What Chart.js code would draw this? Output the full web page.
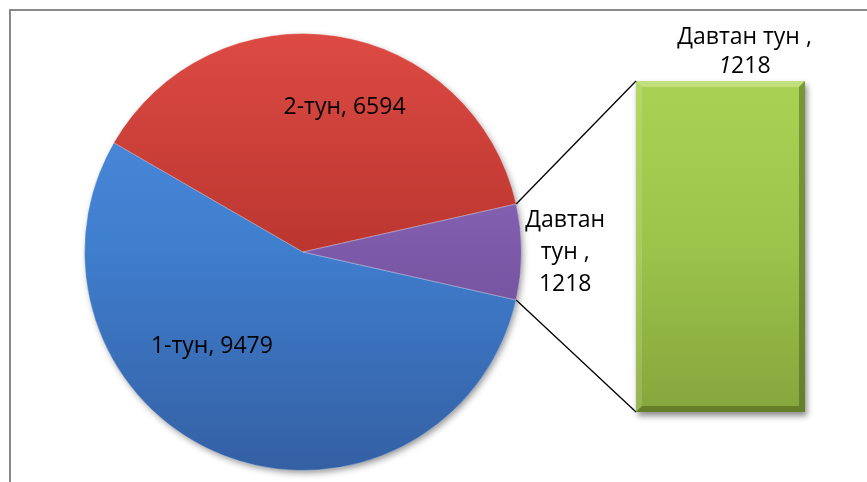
<!DOCTYPE html>
<html>
<head>
<meta charset="utf-8">
<script src="https://cdn.jsdelivr.net/npm/chart.js@4.4.1/dist/chart.umd.min.js"></script>
<style>
html, body { margin: 0; padding: 0; background: #fff; overflow: hidden; }
#wrap { position: relative; width: 867px; height: 482px; }
#frame { position: absolute; left: 9px; top: 9px; width: 900px; height: 500px; border-left: 2px solid #898989; border-top: 2px solid #898989; }
canvas { position: absolute; left: 0; top: 0; }
</style>
</head>
<body>
<div id="wrap">
  <div id="frame"></div>
  <canvas id="pieChart" width="867" height="482"></canvas>
  <canvas id="barChart" width="867" height="482"></canvas>
</div>
<script>
// data
const pieLabels = ['1-тун', '2-тун', 'Давтан тун '];
const pieValues = [9479, 6594, 1218];
const barLabels = ['Давтан тун '];
const barValues = [1218];

// style
const FONT = '23px "Open Sans"';
const pieStops = [
    ['#4f8fe0', '#3f7dcd', '#3460a3'],
    ['#dd4a44', '#bb362f', '#9e2b27'],
    ['#9a78c9', '#7d5aa9', '#5e4185']
];
// label placement: angle (deg, canvas) and distance as share of radius
const labelPlace = [[134, 0.60], [286, 0.69], [0, 1.20]];
const labelWrap = [0, 0, 90];

function gradFill(c, stops) {
    const a = c.chart.chartArea;
    if (!a) return stops[1];
    const g = c.chart.ctx.createLinearGradient(0, a.top, 0, a.bottom);
    g.addColorStop(0, stops[0]); g.addColorStop(0.5, stops[1]); g.addColorStop(1, stops[2]);
    return g;
}

function wrapText(ctx, text, width) {
    if (!width) return [text];
    const words = text.split(' ');
    const lines = []; let cur = '';
    words.forEach(w => {
        const test = cur ? cur + ' ' + w : w;
        if (cur && ctx.measureText(test).width > width) { lines.push(cur); cur = w; }
        else cur = test;
    });
    if (cur) lines.push(cur);
    return lines;
}

const total = pieValues.reduce((s, v) => s + v, 0);
const lastShare = pieValues[pieValues.length - 1] / total * 360;

const pieShadow = {
    id: 'pieShadow',
    beforeDatasetsDraw(chart) {
        const arc = chart.getDatasetMeta(0).data[0];
        const ctx = chart.ctx;
        ctx.save();
        ctx.shadowColor = 'rgba(0,0,0,0.45)';
        ctx.shadowBlur = 7; ctx.shadowOffsetX = 2; ctx.shadowOffsetY = 3;
        ctx.fillStyle = '#3460a3';
        ctx.beginPath(); ctx.arc(arc.x, arc.y, arc.outerRadius - 1, 0, Math.PI * 2); ctx.fill();
        ctx.restore();
    }
};

const pieText = {
    id: 'pieText',
    afterDatasetsDraw(chart) {
        const ctx = chart.ctx;
        ctx.save();
        ctx.font = FONT; ctx.fillStyle = '#000';
        ctx.textAlign = 'center'; ctx.textBaseline = 'middle';
        chart.getDatasetMeta(0).data.forEach((arc, i) => {
            const ang = labelPlace[i][0] * Math.PI / 180;
            const cx = arc.x + Math.cos(ang) * arc.outerRadius * labelPlace[i][1];
            const cy = arc.y + Math.sin(ang) * arc.outerRadius * labelPlace[i][1];
            const lines = wrapText(ctx, pieLabels[i] + ', ' + pieValues[i], labelWrap[i]);
            const lh = 32;
            lines.forEach((l, k) => ctx.fillText(l, cx, cy + (k - (lines.length - 1) / 2) * lh));
        });
        ctx.restore();
    }
};

const pieChart = new Chart(document.getElementById('pieChart'), {
    type: 'pie',
    data: {
        labels: pieLabels,
        datasets: [{
            data: pieValues,
            backgroundColor: (c) => gradFill(c, pieStops[c.dataIndex]),
            borderColor: 'rgba(255,255,255,0.3)',
            borderWidth: 1
        }]
    },
    options: {
        responsive: false, animation: false, devicePixelRatio: 1,
        rotation: 90 + lastShare / 2,
        layout: { padding: { left: 84, right: 345, top: 33, bottom: 11 } },
        plugins: { legend: { display: false }, tooltip: { enabled: false } }
    },
    plugins: [pieShadow, pieText]
});

const barDecor = {
    id: 'barDecor',
    beforeDatasetsDraw(chart) {
        const b = chart.getDatasetMeta(0).data[0];
        const ctx = chart.ctx;
        ctx.save();
        ctx.shadowColor = 'rgba(0,0,0,0.45)';
        ctx.shadowBlur = 6; ctx.shadowOffsetX = 2; ctx.shadowOffsetY = 4;
        ctx.fillStyle = '#88a83e';
        ctx.fillRect(b.x - b.width / 2, b.y, b.width, b.base - b.y);
        ctx.restore();
    },
    afterDatasetsDraw(chart) {
        const b = chart.getDatasetMeta(0).data[0];
        const ctx = chart.ctx;
        const l = b.x - b.width / 2, r = b.x + b.width / 2, t = b.y, bo = b.base, e = 6;
        const face = (pts, col) => {
            ctx.fillStyle = col; ctx.beginPath();
            pts.forEach((p, k) => k ? ctx.lineTo(p[0], p[1]) : ctx.moveTo(p[0], p[1]));
            ctx.closePath(); ctx.fill();
        };
        ctx.save();
        face([[l, t], [r, t], [r - e, t + e], [l + e, t + e]], 'rgba(230,245,190,0.40)');
        face([[l, t], [l + e, t + e], [l + e, bo - e], [l, bo]], 'rgba(220,240,170,0.20)');
        face([[r, t], [r, bo], [r - e, bo - e], [r - e, t + e]], 'rgba(60,80,20,0.45)');
        face([[l, bo], [r, bo], [r - e, bo - e], [l + e, bo - e]], 'rgba(60,80,20,0.45)');
        ctx.restore();

        // connectors from the split slice to the bar
        const arc = pieChart.getDatasetMeta(0).data[pieValues.length - 1];
        ctx.save();
        ctx.strokeStyle = '#000'; ctx.lineWidth = 1.3;
        ctx.beginPath();
        ctx.moveTo(arc.x + Math.cos(arc.startAngle) * arc.outerRadius, arc.y + Math.sin(arc.startAngle) * arc.outerRadius);
        ctx.lineTo(l, t);
        ctx.moveTo(arc.x + Math.cos(arc.endAngle) * arc.outerRadius, arc.y + Math.sin(arc.endAngle) * arc.outerRadius);
        ctx.lineTo(l, bo);
        ctx.stroke();
        ctx.restore();

        // bar label
        ctx.save();
        ctx.fillStyle = '#000'; ctx.textBaseline = 'middle'; ctx.textAlign = 'center';
        ctx.font = FONT;
        const cx = b.x + 24;
        ctx.fillText(barLabels[0].trim() + ' ,', cx, t - 44);
        const num = String(barValues[0]);
        ctx.font = 'italic ' + FONT;
        const w1 = ctx.measureText(num[0]).width;
        ctx.font = FONT;
        const w2 = ctx.measureText(num.slice(1)).width;
        const x0 = cx - (w1 + w2) / 2;
        ctx.textAlign = 'left';
        ctx.font = 'italic ' + FONT; ctx.fillText(num[0], x0, t - 15);
        ctx.font = FONT; ctx.fillText(num.slice(1), x0 + w1, t - 15);
        ctx.restore();
    }
};

new Chart(document.getElementById('barChart'), {
    type: 'bar',
    data: {
        labels: barLabels,
        datasets: [{
            data: barValues,
            backgroundColor: (c) => gradFill(c, ['#a9d254', '#9cc44b', '#86a63d']),
            borderWidth: 0,
            barPercentage: 1, categoryPercentage: 1
        }]
    },
    options: {
        responsive: false, animation: false, devicePixelRatio: 1,
        layout: { padding: { left: 636, right: 62, top: 81, bottom: 70 } },
        scales: {
            x: { display: false },
            y: { display: false, min: 0, max: barValues.reduce((s, v) => s + v, 0) }
        },
        plugins: { legend: { display: false }, tooltip: { enabled: false } }
    },
    plugins: [barDecor]
});
</script>
</body>
</html>
